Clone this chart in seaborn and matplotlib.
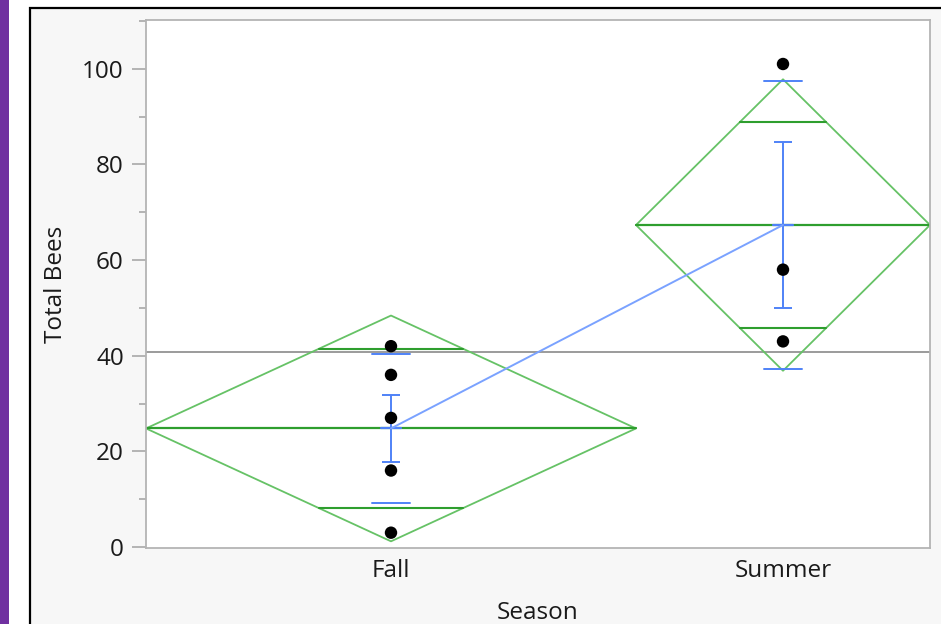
import numpy as np
import pandas as pd
import seaborn as sns
import matplotlib.pyplot as plt
from matplotlib.patches import Rectangle
from matplotlib.ticker import MultipleLocator, FixedLocator

# bees counted per sample
seasons = ['Fall', 'Summer']
fall_bees = [42, 36, 27, 16, 3]
summer_bees = [101, 58, 43]
t_crit = 2.447  # t(0.975, df=6)

groups = {'Fall': fall_bees, 'Summer': summer_bees}
n = np.array([len(groups[s]) for s in seasons])
means = np.array([np.mean(groups[s]) for s in seasons])
sds = np.array([np.std(groups[s], ddof=1) for s in seasons])
se = sds / np.sqrt(n)
ss = sum(((np.array(groups[s]) - np.mean(groups[s])) ** 2).sum() for s in seasons)
rmse = np.sqrt(ss / (n.sum() - len(seasons)))
ci = t_crit * rmse / np.sqrt(n)
grand = np.mean(fall_bees + summer_bees)

# x positions: each group gets width proportional to its n
left = np.concatenate([[0], np.cumsum(n)[:-1]])
right = np.cumsum(n)
center = (left + right) / 2

rows = []
for i, s in enumerate(seasons):
    for v in groups[s]:
        rows.append({'Season': s, 'x': center[i], 'Total Bees': v})
df = pd.DataFrame(rows)
mean_df = pd.DataFrame({'x': center, 'mean': means})

sns.set_style('white')
plt.rcParams['font.family'] = ['Open Sans', 'DejaVu Sans']

fig = plt.figure(figsize=(9.41, 6.24), dpi=100)
fig.patches.append(Rectangle((30 / 941, -0.1), 1.2, 0.1 + 616 / 624, transform=fig.transFigure,
                             facecolor='#f7f7f7', edgecolor='black', lw=1.6, zorder=-5))
fig.patches.append(Rectangle((0, 0), 9 / 941, 1, transform=fig.transFigure,
                             facecolor='#7030a0', edgecolor='none', zorder=-5))

ax = fig.add_axes([146 / 941, 1 - 548 / 624, (930 - 146) / 941, (548 - 20) / 624])
ax.set_facecolor('white')

green_edge = '#66c266'
green_mid = '#2e9e2e'
blue = '#4f82f7'

ax.axhline(grand, color='#808080', lw=1.1, zorder=1)

for i in range(len(seasons)):
    l, r, c, m, h = left[i], right[i], center[i], means[i], ci[i]
    ax.plot([l, c, r, c, l], [m, m + h, m, m - h, m], color=green_edge, lw=1.3, zorder=2)
    ax.plot([l, r], [m, m], color=green_mid, lw=1.6, zorder=2)
    off = h / np.sqrt(2)
    hw = (1 - off / h) * (r - l) / 2
    for y in (m + off, m - off):
        ax.plot([c - hw, c + hw], [y, y], color=green_mid, lw=1.5, zorder=2)
    # std dev lines
    for y in (m + sds[i], m - sds[i]):
        ax.plot([c - 0.19, c + 0.19], [y, y], color=blue, lw=1.4, zorder=3)
    ax.plot([c - 0.1, c + 0.1], [m, m], color=blue, lw=1.6, zorder=3)

ax.errorbar(center, means, yerr=se, fmt='none', ecolor=blue, elinewidth=1.4,
            capsize=6.5, capthick=1.4, zorder=3)
sns.lineplot(data=mean_df, x='x', y='mean', color='#7aa2ff', lw=1.4, ax=ax, zorder=3)
sns.scatterplot(data=df, x='x', y='Total Bees', color='black', s=80, edgecolor='none', ax=ax, zorder=4)

ax.set_xlim(0, n.sum())
ax.set_ylim(-0.2, 110.2)
ax.set_xticks(center)
ax.set_xticklabels(seasons)
ax.xaxis.set_minor_locator(FixedLocator(list(right[:-1])))
ax.yaxis.set_major_locator(MultipleLocator(20))
ax.yaxis.set_minor_locator(MultipleLocator(10))
ax.tick_params(axis='x', which='major', length=0, pad=8, labelsize=17.5, labelcolor='#1a1a1a')
ax.tick_params(axis='x', which='minor', length=6, width=1, color='#a8a8a8', direction='out')
ax.tick_params(axis='y', which='major', length=10, width=1.2, color='#a8a8a8', pad=6,
               labelsize=17.5, labelcolor='#1a1a1a', left=True)
ax.tick_params(axis='y', which='minor', length=5, width=1.2, color='#a8a8a8', left=True)
for sp in ax.spines.values():
    sp.set_color('#b4b4b4')
    sp.set_linewidth(1.3)
ax.set_xlabel('Season', fontsize=17.5, color='#1a1a1a', labelpad=13)
ax.set_ylabel('Total Bees', fontsize=17.5, color='#1a1a1a', labelpad=10)

plt.savefig('out.png', dpi=100)
